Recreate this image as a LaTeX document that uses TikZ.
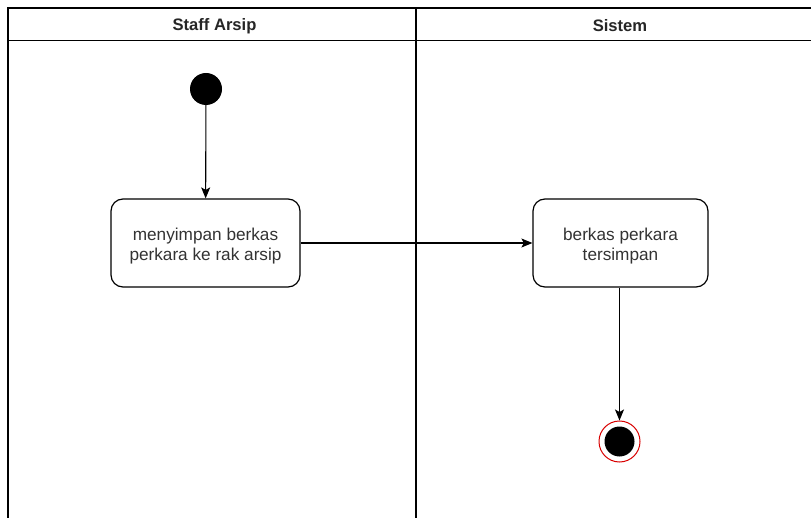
\documentclass[tikz,border=0pt]{standalone}
\usepackage{fontspec}
\setmainfont{Liberation Sans}
\usetikzlibrary{arrows.meta}
\begin{document}
\begin{tikzpicture}[x=1pt,y=-1pt,
  lane/.style={draw=black,line width=1.2pt},
  lanetitle/.style={font=\fontsize{16.6}{19}\selectfont\bfseries,text=black!85},
  activity/.style={draw=black,line width=1.2pt,rounded corners=12pt,fill=white,
    minimum width=189pt,minimum height=88pt,align=center,
    font=\fontsize{17.2}{19.6}\selectfont,text=black!80},
  flow/.style={draw=black,line width=1.1pt,-{Stealth[length=11pt,width=9pt,inset=2.5pt]}},
  startnode/.style={circle,fill=black,minimum size=32pt,inner sep=0pt},
  endring/.style={circle,draw=red!85!black,line width=1pt,fill=white,minimum size=41pt,inner sep=0pt},
  enddot/.style={circle,fill=black,minimum size=30pt,inner sep=0pt}]
\useasboundingbox (0,0) rectangle (811,518);
\fill[white] (0,0) rectangle (811,518);
\begin{scope}
\clip (0,0) rectangle (811,518);
% swimlane frame
\draw[lane] (8,530) -- (8,8) -- (830,8);
\draw[lane] (8,40.5) -- (830,40.5);
\draw[lane] (416,8) -- (416,530);
\end{scope}
\node[lanetitle] (laneA) at (214.5,26) {Staff Arsip};
\node[lanetitle] (laneB) at (620,26) {Sistem};
% actions
\node[startnode] (start) at (206,89) {};
\node[activity] (simpan) at (205.5,243) {\rule{0pt}{19pt}menyimpan berkas\\perkara ke rak arsip};
\node[activity,minimum width=175pt] (tersimpan) at (620.5,243) {\rule{0pt}{19pt}berkas perkara\\tersimpan};
\node[endring] (end) at (619.5,441.5) {};
\node[enddot] (enddot) at (619.5,441.5) {};
% control flow
\draw[flow] (start) -- (simpan);
\draw[flow] (simpan) -- (tersimpan);
\draw[flow] (tersimpan.south -| end) -- (end);
\end{tikzpicture}
\end{document}
